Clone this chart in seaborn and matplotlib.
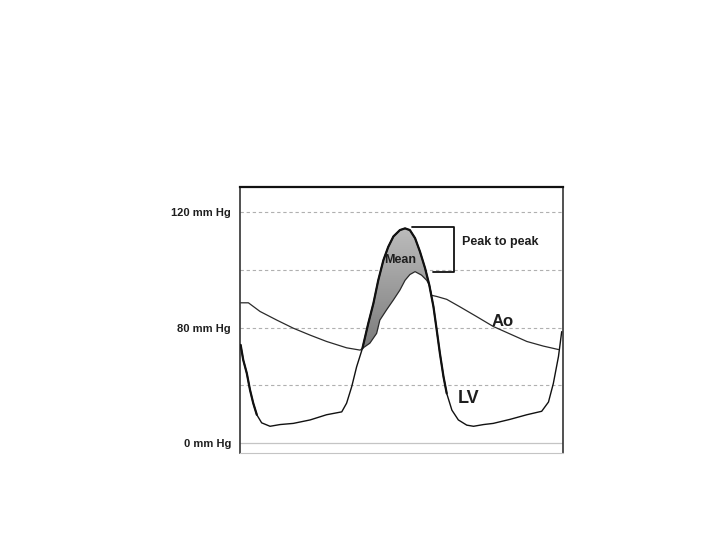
import numpy as np
import matplotlib
matplotlib.use("Agg")
import matplotlib.pyplot as plt
import seaborn as sns

# time in % of cardiac cycle, pressure in grid units (0 = 0 mm Hg line)
lv_t = [0.2, 1.0, 2.1, 3.1, 4.1, 5.2, 6.7, 9.3, 12.4, 16.5, 21.7, 26.8, 31.5, 33.0,
        34.6, 36.1, 37.9, 39.7, 41.3, 42.8, 44.4, 45.9, 47.5, 49.5, 51.1, 52.6,
        54.2, 55.7, 57.3, 58.6, 59.9, 60.9, 61.9, 63.0, 64.0, 65.6, 67.6, 70.2,
        72.3, 75.4, 78.4, 83.6, 88.8, 93.4, 95.5, 97.0, 98.6, 99.6]
lv_p = [1.70, 1.44, 1.21, 0.92, 0.69, 0.49, 0.35, 0.29, 0.32, 0.34, 0.40, 0.49, 0.54, 0.69,
        0.98, 1.32, 1.64, 2.07, 2.42, 2.82, 3.17, 3.40, 3.58, 3.69, 3.72, 3.69,
        3.55, 3.32, 3.03, 2.74, 2.36, 1.96, 1.55, 1.15, 0.86, 0.57, 0.40, 0.31,
        0.29, 0.32, 0.34, 0.41, 0.49, 0.55, 0.71, 1.03, 1.50, 1.93]

ao_t = [0.2, 2.6, 6.2, 11.4, 16.5, 21.7, 26.8, 33.0, 37.2, 37.9, 40.2, 42.3, 43.3,
        45.4, 47.5, 49.5, 51.1, 52.6, 54.2, 56.2, 57.8, 58.6, 59.3, 60.9, 64.0,
        68.1, 73.3, 78.4, 83.6, 88.8, 93.9, 98.6]
ao_p = [2.43, 2.43, 2.28, 2.13, 1.99, 1.87, 1.76, 1.65, 1.61, 1.64, 1.73, 1.90, 2.13,
        2.31, 2.48, 2.65, 2.82, 2.92, 2.97, 2.91, 2.82, 2.74, 2.56, 2.54, 2.49,
        2.36, 2.19, 2.02, 1.89, 1.76, 1.68, 1.62]

grid_levels = [1, 2, 3, 4]
tick_pos = [0, 2, 4]
tick_labels = ["0 mm Hg", "80 mm Hg", "120 mm Hg"]

sns.set_theme(style="white")
plt.rcParams['font.family'] = ['Liberation Sans', 'DejaVu Sans']

fig = plt.figure(figsize=(7.2, 5.4), dpi=100)
ax = fig.add_axes([240/720, 87/540, 323/720, 266/540])
ax.set_xlim(0, 100)
ax.set_ylim(-0.173, 4.437)

# reference lines
for lv in grid_levels:
    ax.axhline(lv, color='#b0b0b0', lw=0.8, ls=(0, (3, 2.5)), zorder=1)
ax.axhline(0, color='#c4c4c4', lw=0.9, zorder=1)

# shaded gradient between LV and Ao during ejection
tt = np.linspace(37.9, 58.6, 200)
upper = np.interp(tt, lv_t, lv_p)
lower = np.interp(tt, ao_t, ao_p)
poly = ax.fill_between(tt, lower, upper, color='none', lw=0)
grad = np.linspace(0, 1, 256).reshape(-1, 1)
im = ax.imshow(grad, extent=[37, 60, 1.6, 3.75], origin='lower', aspect='auto',
               cmap=matplotlib.colors.LinearSegmentedColormap.from_list('g', ['#7a7a7a', '#bdbdbd']),
               zorder=2)
im.set_clip_path(poly.get_paths()[0], transform=ax.transData)

sns.lineplot(x=ao_t, y=ao_p, ax=ax, sort=False, color='#2a2a2a', lw=0.9, zorder=3)
sns.lineplot(x=lv_t, y=lv_p, ax=ax, sort=False, color='#111111', lw=1.0, zorder=4)

# heavier stroke on the early decay and on the ejection / relaxation limbs
lv_t_arr = np.array(lv_t)
lv_p_arr = np.array(lv_p)
for lo, hi in [(0, 5.5), (37.9, 65.0)]:
    m = (lv_t_arr >= lo) & (lv_t_arr <= hi)
    ax.plot(lv_t_arr[m], lv_p_arr[m], color='#111111', lw=1.6, zorder=4,
            solid_capstyle='round')

# peak to peak bracket
ax.plot([53.1, 66.3, 66.3, 59.6], [3.75, 3.75, 2.97, 2.97], color='#111111', lw=1.3, zorder=4)

txt = dict(color='#1e1e1e', fontweight='bold')
ax.text(68.6, 3.49, "Peak to peak", ha='left', va='center', fontsize=9, **txt)
ax.text(49.7, 3.17, "Mean", ha='center', va='center', fontsize=9, zorder=5, **txt)
ax.text(81.3, 2.10, "Ao", ha='center', va='center', fontsize=12, **txt)
ax.text(70.7, 0.77, "LV", ha='center', va='center', fontsize=13, **txt)

ax.set_xticks([])
ax.set_yticks(tick_pos)
ax.set_yticklabels(tick_labels, fontsize=8, fontweight='bold', color='#1e1e1e')
ax.tick_params(axis='y', length=0, pad=6.5)
ax.set_xlabel("")
ax.set_ylabel("")

ax.spines['top'].set_color('#111111')
ax.spines['top'].set_linewidth(1.6)
ax.spines['left'].set_color('#333333')
ax.spines['left'].set_linewidth(1.2)
ax.spines['right'].set_color('#333333')
ax.spines['right'].set_linewidth(1.2)
ax.spines['bottom'].set_color('#c4c4c4')
ax.spines['bottom'].set_linewidth(0.8)

fig.savefig("out.png", dpi=100, facecolor='white')
